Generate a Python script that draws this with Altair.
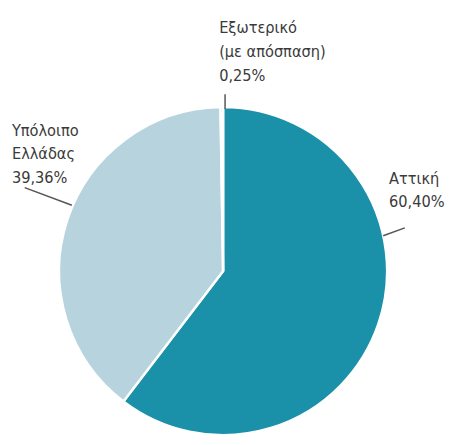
import altair as alt
import pandas as pd

# Data
categories = ["Αττική", "Υπόλοιπο Ελλάδας", "Εξωτερικό (με απόσπαση)"]
shares = [60.40, 39.36, 0.25]
order = [1, 2, 3]
label_lines = [
    "Αττική\n60,40%",
    "Υπόλοιπο\nΕλλάδας\n39,36%",
    "Εξωτερικό\n(με απόσπαση)\n0,25%",
]
colors = ["#1a91a8", "#b7d4de", "#1a91a8"]

df = pd.DataFrame({"cat": categories, "share": shares, "ord": order})

CX, CY, R = 219, 264, 167
FONT = "DejaVu Sans Condensed"

pie = alt.Chart(df).mark_arc(stroke="white", strokeWidth=2.5, outerRadius=R).encode(
    theta=alt.Theta("share:Q", stack=True),
    order=alt.Order("ord:Q"),
    color=alt.Color("cat:N", scale=alt.Scale(domain=categories, range=colors), legend=None),
    x=alt.value(CX),
    y=alt.value(CY),
)

def label(i, x, y):
    d = pd.DataFrame({"t": [label_lines[i]]})
    return alt.Chart(d).mark_text(
        align="left", baseline="alphabetic", lineBreak="\n", lineHeight=24,
        font=FONT, fontSize=16.5, color="#3a3a3a"
    ).encode(text="t:N", x=alt.value(x), y=alt.value(y))

def leader(x1, y1, x2, y2):
    d = pd.DataFrame({"k": [0]})
    return alt.Chart(d).mark_rule(color="#555555", strokeWidth=1.5).encode(
        x=alt.value(x1), y=alt.value(y1), x2=alt.value(x2), y2=alt.value(y2)
    )

chart = alt.layer(
    pie,
    leader(221, 84, 221, 99),
    leader(17, 179, 65, 197),
    leader(382, 228, 404, 220),
    label(2, 215, 22),
    label(1, 4, 126),
    label(0, 388, 175),
).properties(
    width=449, height=429, autosize=alt.AutoSizeParams(type="none"), padding=0
).configure_view(stroke=None)

chart.save("out.html", embed_options={"renderer": "svg", "actions": False})
